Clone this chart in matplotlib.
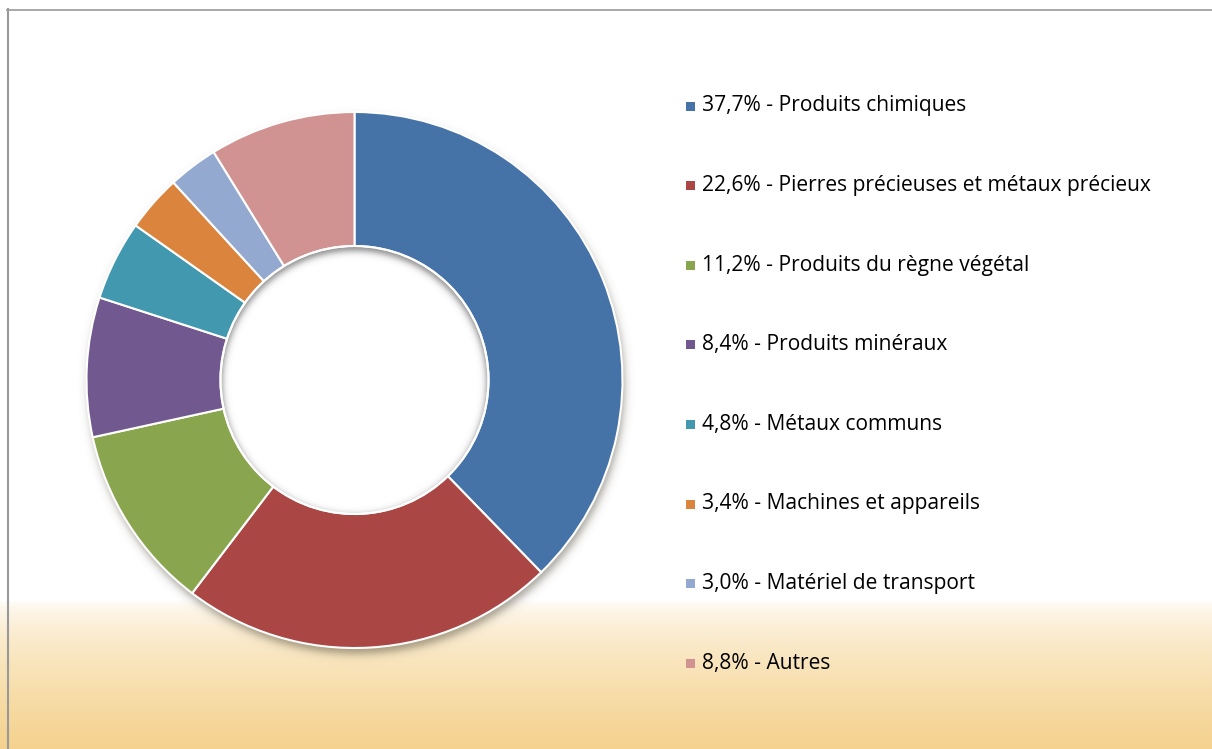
import numpy as np
import matplotlib
matplotlib.use("Agg")
import matplotlib.pyplot as plt
from matplotlib.patches import Rectangle, Circle

categories = ["Produits chimiques", "Pierres précieuses et métaux précieux",
              "Produits du règne végétal", "Produits minéraux", "Métaux communs",
              "Machines et appareils", "Matériel de transport", "Autres"]
values = [37.7, 22.6, 11.2, 8.4, 4.8, 3.4, 3.0, 8.8]
value_labels = ["37,7%", "22,6%", "11,2%", "8,4%", "4,8%", "3,4%", "3,0%", "8,8%"]
colors = ["#4572A7", "#AA4643", "#89A54E", "#71588F", "#4198AF", "#DB843D", "#93A9CF", "#D19392"]

W, H = 1212, 749
fig = plt.figure(figsize=(W / 100, H / 100), dpi=100)
ax = fig.add_axes([0, 0, 1, 1])
ax.set_xlim(0, W)
ax.set_ylim(0, H)
ax.set_aspect("equal")
ax.axis("off")

# background gradient (white -> light orange at bottom)
yy = np.arange(H)[:, None]  # row 0 = top
t = np.clip((yy - 600) / (H - 600), 0, 1) ** 0.6
top = np.array([1.0, 1.0, 1.0])
bot = np.array([0xF5, 0xD2, 0x8E]) / 255
bg = top + (bot - top) * t[..., None]
bg = np.repeat(bg, W, axis=1)
ax.imshow(bg, extent=(0, W, 0, H), origin="upper", zorder=0, interpolation="bilinear")

# frame lines
ax.plot([7.5, 7.5], [0, H - 9], color="#999999", lw=1.5, zorder=1)
ax.plot([7, W], [H - 9.5, H - 9.5], color="#999999", lw=1.2, zorder=1)

cx, cy = 354.5, H - 380
R = 268
r_hole = 134

# outer drop shadow
X, Y = np.meshgrid(np.arange(W) + 0.5, H - (np.arange(H) + 0.5))
d = np.hypot(X - (cx + 2), Y - (cy - 6))
a = 0.45 / (1 + np.exp((d - R) / 2.5))
sh = np.zeros((H, W, 4))
sh[..., 0] = 0.25; sh[..., 1] = 0.22; sh[..., 2] = 0.15
sh[..., 3] = a
ax.imshow(sh, extent=(0, W, 0, H), origin="upper", zorder=2, interpolation="bilinear")

wedges, _ = ax.pie(values, colors=colors, startangle=90, counterclock=False,
                   center=(cx, cy), radius=R, frame=True,
                   wedgeprops=dict(width=R - r_hole, edgecolor="white", linewidth=1.5))
for w in wedges:
    w.set_zorder(3)
ax.set_xlim(0, W)
ax.set_ylim(0, H)
ax.axis("off")

# hole and its inner shadow
hole = Circle((cx, cy), r_hole, facecolor="white", edgecolor="none", zorder=4)
ax.add_patch(hole)
d2 = np.hypot(X - cx, Y - (cy - 3))
a2 = 0.45 / (1 + np.exp((r_hole - 2 - d2) / 2.0))
ish = np.zeros((H, W, 4))
ish[..., 3] = a2
im = ax.imshow(ish, extent=(0, W, 0, H), origin="upper", zorder=5, interpolation="bilinear")
clip = Circle((cx, cy), r_hole - 1, transform=ax.transData)
im.set_clip_path(clip)
ax.add_patch(Circle((cx, cy), r_hole, facecolor="none", edgecolor="white", lw=1.5, zorder=6))

# legend
leg_y0, leg_dy = 106, 79.6
for i, (c, v, name) in enumerate(zip(colors, value_labels, categories)):
    y = H - (leg_y0 + i * leg_dy)
    ax.add_patch(Rectangle((686, y - 4.5), 9, 9, facecolor=c, edgecolor="none", zorder=6))
    ax.text(702, y, f"{v} - {name}", fontsize=15.1, family="Open Sans",
            va="center", ha="left", color="#000000", zorder=6)

fig.savefig("out.png", dpi=100)
